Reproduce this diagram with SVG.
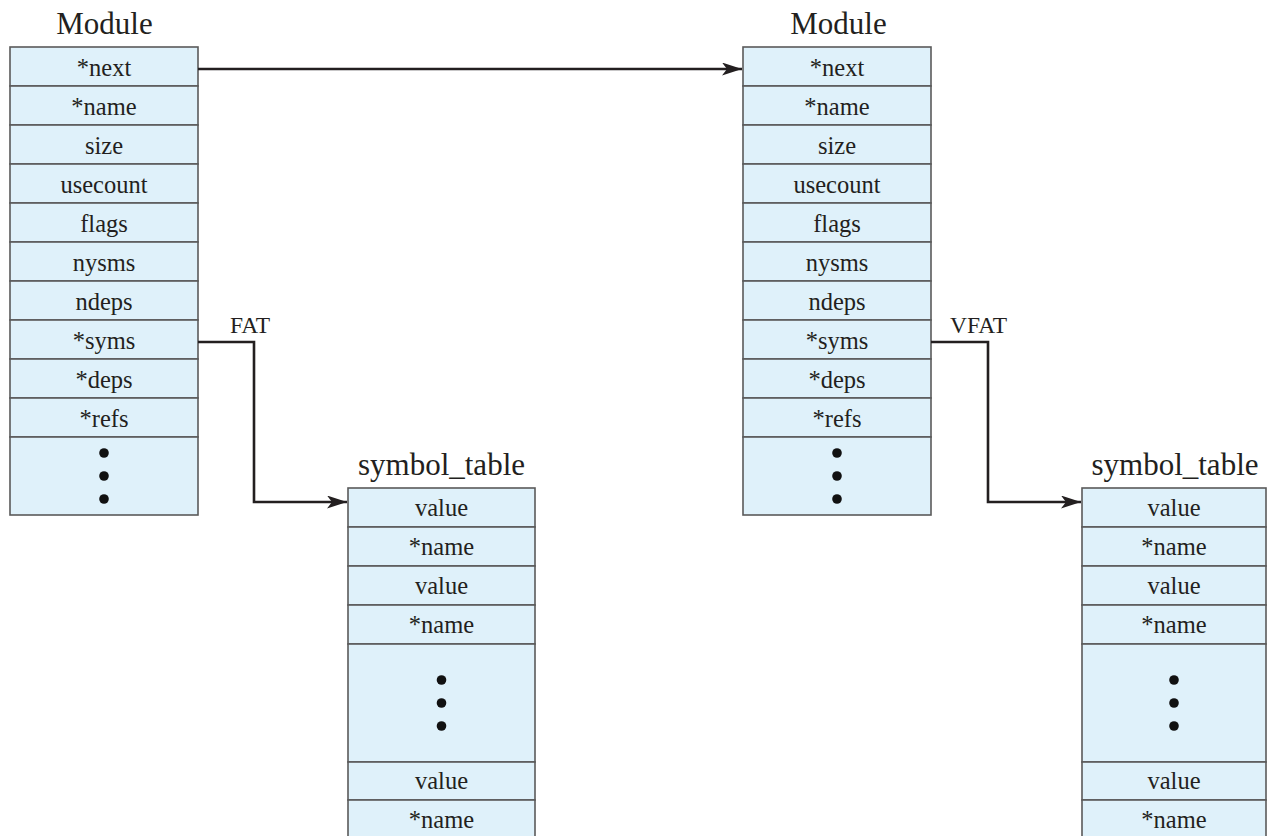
<svg xmlns="http://www.w3.org/2000/svg" width="1267" height="836" viewBox="0 0 1267 836">
<style>
  .cell { fill: #dff1fa; stroke: #5a5a5a; stroke-width: 1.6; }
  .lbl { font-family: "Liberation Serif", "Times New Roman", serif; font-size: 24.5px; fill: #231f20; text-anchor: middle; }
  .title { font-family: "Liberation Serif", "Times New Roman", serif; font-size: 31px; fill: #231f20; text-anchor: middle; }
  .conn { fill: none; stroke: #231f20; stroke-width: 2.6; }
  .clab { font-family: "Liberation Serif", "Times New Roman", serif; font-size: 23.5px; fill: #231f20; }
  .dot { fill: #111; }
</style>
<defs>
  <marker id="arrow" viewBox="0 0 20 13" refX="20" refY="6.5" markerWidth="20" markerHeight="13" markerUnits="userSpaceOnUse" orient="auto">
    <path d="M0,0 L20,6.5 L0,13 L5,6.5 Z" fill="#231f20"/>
  </marker>
</defs>

<g id="module1">
  <text class="title" x="104.5" y="34">Module</text>
  <rect class="cell" x="10" y="47" width="188" height="39"/>
  <rect class="cell" x="10" y="86" width="188" height="39"/>
  <rect class="cell" x="10" y="125" width="188" height="39"/>
  <rect class="cell" x="10" y="164" width="188" height="39"/>
  <rect class="cell" x="10" y="203" width="188" height="39"/>
  <rect class="cell" x="10" y="242" width="188" height="39"/>
  <rect class="cell" x="10" y="281" width="188" height="39"/>
  <rect class="cell" x="10" y="320" width="188" height="39"/>
  <rect class="cell" x="10" y="359" width="188" height="39"/>
  <rect class="cell" x="10" y="398" width="188" height="39"/>
  <rect class="cell" x="10" y="437" width="188" height="78"/>
  <text class="lbl" x="104" y="76">*next</text>
  <text class="lbl" x="104" y="115">*name</text>
  <text class="lbl" x="104" y="154">size</text>
  <text class="lbl" x="104" y="193">usecount</text>
  <text class="lbl" x="104" y="232">flags</text>
  <text class="lbl" x="104" y="271">nysms</text>
  <text class="lbl" x="104" y="310">ndeps</text>
  <text class="lbl" x="104" y="349">*syms</text>
  <text class="lbl" x="104" y="388">*deps</text>
  <text class="lbl" x="104" y="427">*refs</text>
  <circle class="dot" cx="104" cy="453" r="4.8"/>
  <circle class="dot" cx="104" cy="476" r="4.8"/>
  <circle class="dot" cx="104" cy="499" r="4.8"/>
</g>

<g id="module2">
  <text class="title" x="838.5" y="34">Module</text>
  <rect class="cell" x="743" y="47" width="188" height="39"/>
  <rect class="cell" x="743" y="86" width="188" height="39"/>
  <rect class="cell" x="743" y="125" width="188" height="39"/>
  <rect class="cell" x="743" y="164" width="188" height="39"/>
  <rect class="cell" x="743" y="203" width="188" height="39"/>
  <rect class="cell" x="743" y="242" width="188" height="39"/>
  <rect class="cell" x="743" y="281" width="188" height="39"/>
  <rect class="cell" x="743" y="320" width="188" height="39"/>
  <rect class="cell" x="743" y="359" width="188" height="39"/>
  <rect class="cell" x="743" y="398" width="188" height="39"/>
  <rect class="cell" x="743" y="437" width="188" height="78"/>
  <text class="lbl" x="837" y="76">*next</text>
  <text class="lbl" x="837" y="115">*name</text>
  <text class="lbl" x="837" y="154">size</text>
  <text class="lbl" x="837" y="193">usecount</text>
  <text class="lbl" x="837" y="232">flags</text>
  <text class="lbl" x="837" y="271">nysms</text>
  <text class="lbl" x="837" y="310">ndeps</text>
  <text class="lbl" x="837" y="349">*syms</text>
  <text class="lbl" x="837" y="388">*deps</text>
  <text class="lbl" x="837" y="427">*refs</text>
  <circle class="dot" cx="837" cy="453" r="4.8"/>
  <circle class="dot" cx="837" cy="476" r="4.8"/>
  <circle class="dot" cx="837" cy="499" r="4.8"/>
</g>

<g id="symtab1">
  <text class="title" x="441.5" y="475">symbol_table</text>
  <rect class="cell" x="348" y="488" width="187" height="39"/>
  <rect class="cell" x="348" y="527" width="187" height="39"/>
  <rect class="cell" x="348" y="566" width="187" height="39"/>
  <rect class="cell" x="348" y="605" width="187" height="39"/>
  <rect class="cell" x="348" y="644" width="187" height="118"/>
  <rect class="cell" x="348" y="762" width="187" height="38"/>
  <rect class="cell" x="348" y="800" width="187" height="45"/>
  <text class="lbl" x="441.5" y="516">value</text>
  <text class="lbl" x="441.5" y="555">*name</text>
  <text class="lbl" x="441.5" y="594">value</text>
  <text class="lbl" x="441.5" y="633">*name</text>
  <circle class="dot" cx="441.5" cy="680" r="4.8"/>
  <circle class="dot" cx="441.5" cy="703" r="4.8"/>
  <circle class="dot" cx="441.5" cy="726" r="4.8"/>
  <text class="lbl" x="441.5" y="789">value</text>
  <text class="lbl" x="441.5" y="828">*name</text>
</g>

<g id="symtab2">
  <text class="title" x="1175" y="475">symbol_table</text>
  <rect class="cell" x="1082" y="488" width="184" height="39"/>
  <rect class="cell" x="1082" y="527" width="184" height="39"/>
  <rect class="cell" x="1082" y="566" width="184" height="39"/>
  <rect class="cell" x="1082" y="605" width="184" height="39"/>
  <rect class="cell" x="1082" y="644" width="184" height="118"/>
  <rect class="cell" x="1082" y="762" width="184" height="38"/>
  <rect class="cell" x="1082" y="800" width="184" height="45"/>
  <text class="lbl" x="1174" y="516">value</text>
  <text class="lbl" x="1174" y="555">*name</text>
  <text class="lbl" x="1174" y="594">value</text>
  <text class="lbl" x="1174" y="633">*name</text>
  <circle class="dot" cx="1174" cy="680" r="4.8"/>
  <circle class="dot" cx="1174" cy="703" r="4.8"/>
  <circle class="dot" cx="1174" cy="726" r="4.8"/>
  <text class="lbl" x="1174" y="789">value</text>
  <text class="lbl" x="1174" y="828">*name</text>
</g>

<g id="connectors">
  <path class="conn" d="M198,69 L742,69" marker-end="url(#arrow)"/>
  <path class="conn" d="M198,342 L254,342 L254,502 L347,502" marker-end="url(#arrow)"/>
  <text class="clab" x="230" y="333">FAT</text>
  <path class="conn" d="M931,342 L988,342 L988,502 L1081,502" marker-end="url(#arrow)"/>
  <text class="clab" x="950" y="333">VFAT</text>
</g>
</svg>
